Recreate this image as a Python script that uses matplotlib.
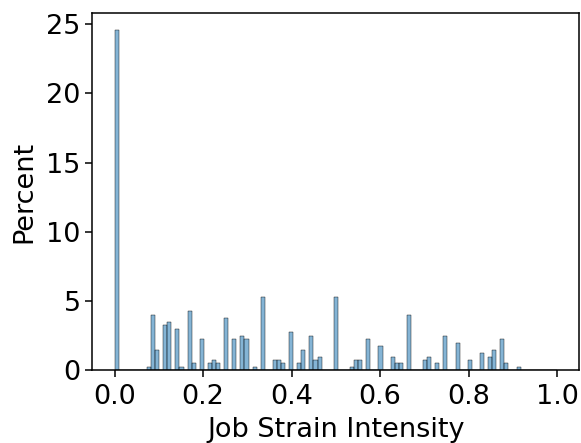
import numpy as np
import pandas as pd
import seaborn as sns
from matplotlib import pyplot as plt

# bin centres (job strain intensity) and percent of respondents per bin
strain = [0.005, 0.078, 0.087, 0.096, 0.115, 0.124, 0.142, 0.151, 0.170, 0.179,
          0.197, 0.216, 0.225, 0.234, 0.252, 0.271, 0.289, 0.298, 0.317, 0.335,
          0.362, 0.372, 0.381, 0.399, 0.418, 0.427, 0.445, 0.454, 0.463, 0.500,
          0.537, 0.546, 0.555, 0.573, 0.601, 0.628, 0.637, 0.647, 0.665, 0.702,
          0.711, 0.729, 0.748, 0.775, 0.803, 0.830, 0.849, 0.858, 0.876, 0.885,
          0.913]
percent = [24.6, 0.22, 3.97, 1.44, 3.25, 3.44, 2.98, 0.22, 4.24, 0.48,
           2.21, 0.48, 0.72, 0.48, 3.73, 2.21, 2.48, 2.21, 0.22, 5.25,
           0.72, 0.72, 0.48, 2.72, 0.48, 1.44, 2.48, 0.72, 0.96, 5.25,
           0.22, 0.72, 0.72, 2.21, 1.71, 0.96, 0.48, 0.48, 3.97, 0.72,
           0.96, 0.48, 2.48, 1.97, 0.72, 1.20, 0.96, 1.44, 2.21, 0.48,
           0.22]

df = pd.DataFrame({'strain': strain, 'percent': percent})

plt.rcParams['font.size'] = 19.5
fig = plt.figure(figsize=(5.81, 4.43), dpi=100)
ax = fig.add_axes([0.159, 0.165, 0.838, 0.805])

sns.histplot(data=df, x='strain', weights='percent', bins=109,
             binrange=(0, 1), stat='count', alpha=0.55, ax=ax)

ax.set_xlim(-0.05, 1.05)
ax.set_ylim(0, 25.8)
ax.set_xticks([0.0, 0.2, 0.4, 0.6, 0.8, 1.0])
ax.set_yticks([0, 5, 10, 15, 20, 25])
ax.set_xlabel('Job Strain Intensity', labelpad=5)
ax.set_ylabel('Percent', labelpad=6)
ax.tick_params(length=5, width=1.1)
ax.tick_params(axis='x', pad=5)
for s in ax.spines.values():
    s.set_linewidth(1.1)

fig.savefig('out.png', dpi=100)
